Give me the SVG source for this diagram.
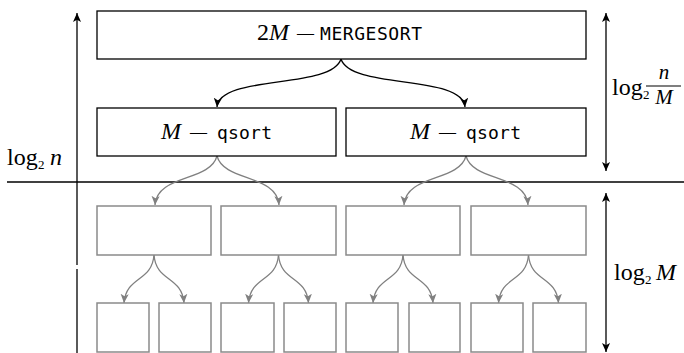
<svg xmlns="http://www.w3.org/2000/svg" width="684" height="353" viewBox="0 0 684 353">
  <defs>
    <marker id="ah" viewBox="0 0 10 10" refX="10" refY="5" markerWidth="9" markerHeight="9" markerUnits="userSpaceOnUse" orient="auto">
      <path d="M0,0.5 L10,5 L0,9.5 L2.5,5 Z" fill="#000"/>
    </marker>
    <marker id="ahs" viewBox="0 0 10 10" refX="10" refY="5" markerWidth="9" markerHeight="9" markerUnits="userSpaceOnUse" orient="auto-start-reverse">
      <path d="M0,0.5 L10,5 L0,9.5 L2.5,5 Z" fill="#000"/>
    </marker>
    <marker id="ag" viewBox="0 0 10 10" refX="10" refY="5" markerWidth="9" markerHeight="9" markerUnits="userSpaceOnUse" orient="auto">
      <path d="M0,0.5 L10,5 L0,9.5 L2.5,5 Z" fill="#808080"/>
    </marker>
  </defs>
  <style>
    .box { fill: #fff; stroke: #000; stroke-width: 1.3; }
    .gbox { fill: #fff; stroke: #8a8a8a; stroke-width: 1.5; }
    .edge { fill: none; stroke: #000; stroke-width: 1.3; marker-end: url(#ah); }
    .gedge { fill: none; stroke: #808080; stroke-width: 1.3; marker-end: url(#ag); }
    .rule { stroke: #000; stroke-width: 1.3; fill: none; }
    .rm { font-family: "Liberation Serif", "DejaVu Serif", serif; font-size: 24px; fill: #000; }
    .it { font-family: "Liberation Serif", "DejaVu Serif", serif; font-style: italic; font-size: 24px; fill: #000; }
    .frac { font-family: "Liberation Serif", "DejaVu Serif", serif; font-style: italic; font-size: 21px; fill: #000; }
    .sub { font-family: "Liberation Serif", "DejaVu Serif", serif; font-size: 13px; fill: #000; }
    .dash { font-family: "Liberation Serif", "DejaVu Serif", serif; font-size: 17px; fill: #000; }
    .tt { font-family: "DejaVu Sans Mono", "Liberation Mono", monospace; font-size: 18px; fill: #000; }
  </style>

  <!-- axes and separators -->
  <g id="axes">
    <line class="rule" x1="77" y1="265" x2="77" y2="13" stroke="#333" marker-end="url(#ah)"/>
    <line class="rule" x1="77" y1="269" x2="77" y2="353" stroke="#333"/>
    <line class="rule" x1="7" y1="182" x2="684" y2="182"/>
    <line class="rule" x1="606" y1="13" x2="606" y2="171" marker-start="url(#ahs)" marker-end="url(#ah)"/>
    <line class="rule" x1="606" y1="193" x2="606" y2="352" marker-start="url(#ahs)" marker-end="url(#ah)"/>
  </g>

  <!-- level labels -->
  <g id="label-log-n">
    <text class="rm" x="7" y="165">log</text>
    <text class="sub" x="38" y="169">2</text>
    <text class="it" x="50" y="165">n</text>
  </g>
  <g id="label-log-n-over-M">
    <text class="rm" x="612" y="95">log</text>
    <text class="sub" x="643" y="99">2</text>
    <text class="frac" x="664" y="79" text-anchor="middle">n</text>
    <line x1="646" y1="86" x2="681" y2="86" stroke="#000" stroke-width="1.2"/>
    <text class="frac" x="664" y="104" text-anchor="middle">M</text>
  </g>
  <g id="label-log-M">
    <text class="rm" x="614" y="280">log</text>
    <text class="sub" x="645" y="284">2</text>
    <text class="it" x="656" y="280">M</text>
  </g>

  <!-- connectors -->
  <g id="connectors">
    <path class="edge" d="M341,59 C331,90 220,74 217,107"/>
    <path class="edge" d="M341,59 C351,90 462,74 465,107"/>

    <path class="gedge" d="M217,156 C210,182 157,174 155,205"/>
    <path class="gedge" d="M217,156 C224,182 277,174 279,205"/>
    <path class="gedge" d="M466,156 C459,182 406,174 404,205"/>
    <path class="gedge" d="M466,156 C473,182 526,174 528,205"/>

    <path class="gedge" d="M154,255 C152,282 126,276 124,303"/>
    <path class="gedge" d="M154,255 C156,282 182,276 184,303"/>
    <path class="gedge" d="M278.5,255 C276.5,282 250.5,276 248.5,303"/>
    <path class="gedge" d="M278.5,255 C280.5,282 306.5,276 308.5,303"/>
    <path class="gedge" d="M403,255 C401,282 375,276 373,303"/>
    <path class="gedge" d="M403,255 C405,282 431,276 433,303"/>
    <path class="gedge" d="M528.5,255 C526.5,282 500.5,276 498.5,303"/>
    <path class="gedge" d="M528.5,255 C530.5,282 556.5,276 558.5,303"/>
  </g>

  <!-- merge level -->
  <g id="merge">
    <rect class="box" x="97" y="11" width="489" height="48"/>
    <text class="rm" x="257" y="40">2</text>
    <text class="it" x="269" y="40">M</text>
    <text class="dash" x="297" y="38">—</text>
    <text class="tt" x="320" y="40" textLength="102" lengthAdjust="spacing">MERGESORT</text>
  </g>

  <!-- quicksort leaves -->
  <g id="qsort-left">
    <rect class="box" x="97" y="108" width="239" height="48"/>
    <text class="it" x="161" y="139">M</text>
    <text class="dash" x="190" y="137">—</text>
    <text class="tt" x="217" y="139" textLength="55" lengthAdjust="spacing">qsort</text>
  </g>
  <g id="qsort-right">
    <rect class="box" x="346" y="108" width="240" height="48"/>
    <text class="it" x="410" y="139">M</text>
    <text class="dash" x="439" y="137">—</text>
    <text class="tt" x="466" y="139" textLength="55" lengthAdjust="spacing">qsort</text>
  </g>

  <!-- recursion inside qsort -->
  <g id="q1"><rect class="gbox" x="97" y="206" width="114" height="49"/></g>
  <g id="q2"><rect class="gbox" x="221" y="206" width="115" height="49"/></g>
  <g id="q3"><rect class="gbox" x="346" y="206" width="114" height="49"/></g>
  <g id="q4"><rect class="gbox" x="471" y="206" width="115" height="49"/></g>

  <g id="r1"><rect class="gbox" x="97" y="303" width="52" height="49"/></g>
  <g id="r2"><rect class="gbox" x="159" y="303" width="52" height="49"/></g>
  <g id="r3"><rect class="gbox" x="221" y="303" width="53" height="49"/></g>
  <g id="r4"><rect class="gbox" x="284" y="303" width="52" height="49"/></g>
  <g id="r5"><rect class="gbox" x="346" y="303" width="52" height="49"/></g>
  <g id="r6"><rect class="gbox" x="409" y="303" width="51" height="49"/></g>
  <g id="r7"><rect class="gbox" x="471" y="303" width="52" height="49"/></g>
  <g id="r8"><rect class="gbox" x="533" y="303" width="53" height="49"/></g>
</svg>
